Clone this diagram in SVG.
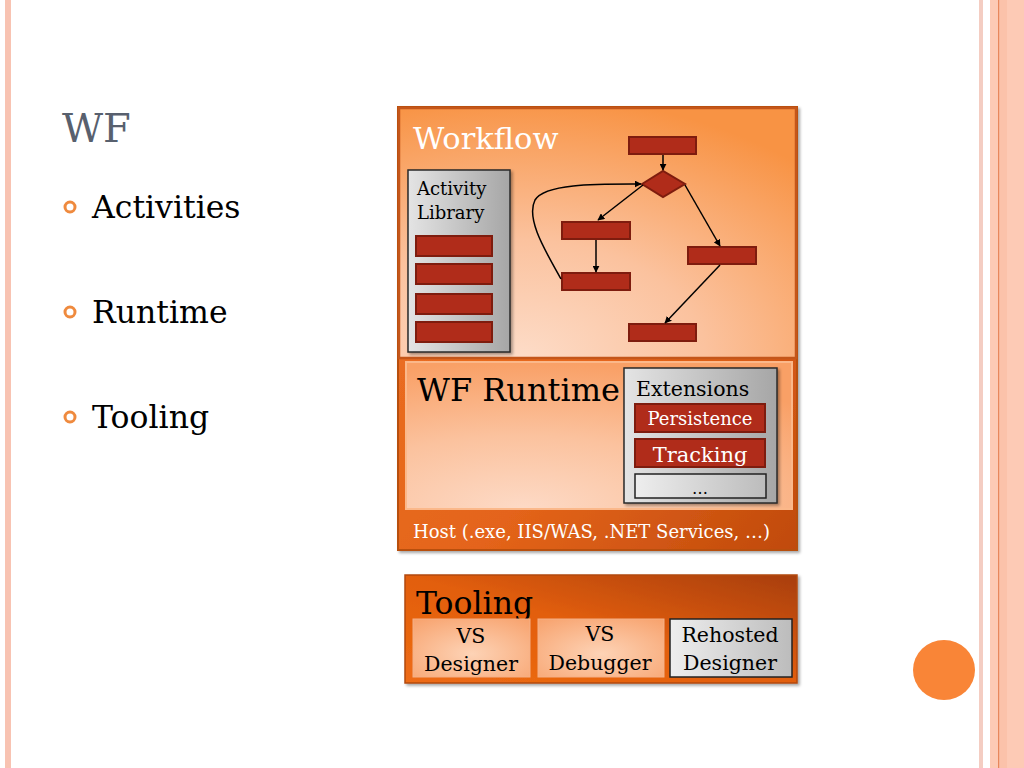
<svg xmlns="http://www.w3.org/2000/svg" width="1024" height="768" viewBox="0 0 1024 768">
<defs>
<style>
.serif{font-family:"DejaVu Serif","Liberation Serif",serif}
.red{fill:#b02c1a;stroke:#7e1c0e;stroke-width:2}
.conn{fill:none;stroke:#000;stroke-width:1.5}
.gbox{stroke:#2a2a2a;stroke-width:1.5}
</style>
<filter id="sh" x="-10%" y="-10%" width="130%" height="130%">
<feDropShadow dx="2" dy="2" stdDeviation="1.5" flood-color="#000" flood-opacity="0.35"/>
</filter>
<radialGradient id="wfG" cx="0.3" cy="1" r="1.05">
<stop offset="0" stop-color="#fddcc8"/>
<stop offset="0.45" stop-color="#fbc29e"/>
<stop offset="1" stop-color="#f89344"/>
</radialGradient>
<radialGradient id="rtG" cx="0.3" cy="1" r="1">
<stop offset="0" stop-color="#fddac6"/>
<stop offset="0.5" stop-color="#fbc29e"/>
<stop offset="1" stop-color="#f9a066"/>
</radialGradient>
<linearGradient id="hostG" x1="0" y1="0" x2="1" y2="1">
<stop offset="0" stop-color="#ee7426"/>
<stop offset="0.6" stop-color="#e4641a"/>
<stop offset="1" stop-color="#c04a0c"/>
</linearGradient>
<linearGradient id="toolG" x1="0" y1="1" x2="1" y2="0">
<stop offset="0" stop-color="#ee6c14"/>
<stop offset="0.5" stop-color="#e25e0c"/>
<stop offset="1" stop-color="#a83e08"/>
</linearGradient>
<radialGradient id="vsG" cx="0.5" cy="0.6" r="0.8">
<stop offset="0" stop-color="#fdd3b6"/>
<stop offset="1" stop-color="#f7a06a"/>
</radialGradient>
<linearGradient id="grayG" x1="0" y1="0" x2="1" y2="0">
<stop offset="0" stop-color="#e4e4e4"/>
<stop offset="1" stop-color="#a6a6a6"/>
</linearGradient>
<linearGradient id="grayL" x1="0" y1="0" x2="1" y2="0">
<stop offset="0" stop-color="#eeeeee"/>
<stop offset="1" stop-color="#bcbcbc"/>
</linearGradient>
<marker id="ah" viewBox="0 0 10 10" refX="9" refY="5" markerWidth="7" markerHeight="7" orient="auto-start-reverse" markerUnits="userSpaceOnUse">
<path d="M0,0 L10,5 L0,10 z" fill="#000"/>
</marker>
</defs>
<rect width="1024" height="768" fill="#ffffff"/>
<!-- slide decorations -->
<rect x="5" y="0" width="6" height="768" fill="#f8c3b2"/>
<rect x="979" y="0" width="4" height="768" fill="#f4cdc2"/>
<rect x="990" y="0" width="34" height="768" fill="#fdcab5"/>
<rect x="999" y="0" width="8" height="768" fill="#fbc2aa"/>
<rect x="998" y="0" width="1.2" height="768" fill="#e8875c"/>
<ellipse cx="944" cy="670" rx="31" ry="30" fill="#f98537"/>
<!-- left text -->
<g id="title"><text x="62" y="142" class="serif" font-size="40" fill="#58606e">WF</text></g>
<g id="bullets" class="serif" font-size="31.5" fill="#000">
<circle cx="70" cy="207" r="5" fill="none" stroke="#ef8a3e" stroke-width="3"/>
<text x="92" y="218">Activities</text>
<circle cx="70" cy="312" r="5" fill="none" stroke="#ef8a3e" stroke-width="3"/>
<text x="92" y="323">Runtime</text>
<circle cx="70" cy="417" r="5" fill="none" stroke="#ef8a3e" stroke-width="3"/>
<text x="92" y="428">Tooling</text>
</g>
<!-- Host -->
<g id="host">
<rect x="398" y="107" width="399" height="443" fill="url(#hostG)" stroke="#b8500f" stroke-width="2" filter="url(#sh)"/>
<text x="413" y="538" class="serif" font-size="18" fill="#ffffff">Host (.exe, IIS/WAS, .NET Services, …)</text>
</g>
<!-- Workflow -->
<g id="workflow">
<rect x="399" y="108" width="397" height="250" fill="url(#wfG)" stroke="#c4561a" stroke-width="2.5"/>
<text x="413" y="149" class="serif" font-size="30.5" fill="#ffffff">Workflow</text>
</g>
<!-- Activity Library -->
<g id="activity-library">
<rect x="408" y="170" width="102" height="182" fill="url(#grayG)" class="gbox" filter="url(#sh)"/>
<text x="417" y="195" class="serif" font-size="18" fill="#000">Activity</text>
<text x="417" y="219" class="serif" font-size="18" fill="#000">Library</text>
<rect x="416" y="236" width="76" height="20" class="red"/>
<rect x="416" y="264" width="76" height="20" class="red"/>
<rect x="416" y="294" width="76" height="20" class="red"/>
<rect x="416" y="322" width="76" height="20" class="red"/>
</g>
<!-- flowchart nodes -->
<g id="n-start"><rect x="629" y="137" width="67" height="17" class="red"/></g>
<g id="n-decision"><polygon points="642,184 663,171 685,184 663,197" class="red"/></g>
<g id="n-left1"><rect x="562" y="222" width="68" height="17" class="red"/></g>
<g id="n-left2"><rect x="562" y="273" width="68" height="17" class="red"/></g>
<g id="n-right"><rect x="688" y="247" width="68" height="17" class="red"/></g>
<g id="n-end"><rect x="629" y="324" width="67" height="17" class="red"/></g>
<g id="connectors">
<path d="M663,155 L663,170" class="conn" marker-end="url(#ah)"/>
<path d="M643,185 L598,220" class="conn" marker-end="url(#ah)"/>
<path d="M596,240 L596,272" class="conn" marker-end="url(#ah)"/>
<path d="M685,185 L720,246" class="conn" marker-end="url(#ah)"/>
<path d="M720,265 L665,323" class="conn" marker-end="url(#ah)"/>
<path d="M561,279 C548,255 525,220 535,200 C545,183 600,184 641,184" class="conn" marker-end="url(#ah)"/>
</g>
<!-- WF Runtime -->
<g id="runtime">
<rect x="406" y="362" width="386" height="147" fill="url(#rtG)" stroke="#fbb88a" stroke-width="2"/>
<text x="417" y="401" class="serif" font-size="32" fill="#000">WF Runtime</text>
</g>
<g id="extensions">
<rect x="624" y="368" width="153" height="135" fill="url(#grayG)" class="gbox" filter="url(#sh)"/>
<text x="636" y="396" class="serif" font-size="20.5" fill="#000">Extensions</text>
</g>
<g id="persistence">
<rect x="635" y="404" width="130" height="28" class="red"/>
<text x="700" y="425" class="serif" font-size="18" fill="#fff" text-anchor="middle">Persistence</text>
</g>
<g id="tracking">
<rect x="635" y="439" width="130" height="28" class="red"/>
<text x="700" y="462" class="serif" font-size="21" fill="#fff" text-anchor="middle">Tracking</text>
</g>
<g id="more">
<rect x="635" y="474" width="131" height="24" fill="url(#grayL)" stroke="#222" stroke-width="1.5"/>
<text x="700" y="494" class="serif" font-size="16" fill="#000" text-anchor="middle">…</text>
</g>
<!-- Tooling -->
<g id="tooling">
<rect x="405" y="575" width="392" height="108" fill="url(#toolG)" stroke="#b34a0e" stroke-width="1.5" filter="url(#sh)"/>
<text x="416" y="614" class="serif" font-size="31.5" fill="#000">Tooling</text>
</g>
<g id="vs-designer">
<rect x="413" y="619" width="117" height="58" fill="url(#vsG)" stroke="#f4b088" stroke-width="1"/>
<text x="471" y="643" class="serif" font-size="20.5" fill="#000" text-anchor="middle">VS</text>
<text x="471" y="671" class="serif" font-size="20.5" fill="#000" text-anchor="middle">Designer</text>
</g>
<g id="vs-debugger">
<rect x="538" y="619" width="126" height="58" fill="url(#vsG)" stroke="#f4b088" stroke-width="1"/>
<text x="600" y="641" class="serif" font-size="20.5" fill="#000" text-anchor="middle">VS</text>
<text x="600" y="670" class="serif" font-size="20.5" fill="#000" text-anchor="middle">Debugger</text>
</g>
<g id="rehosted-designer">
<rect x="670" y="619" width="122" height="58" fill="url(#grayL)" stroke="#222" stroke-width="1.5"/>
<text x="730" y="642" class="serif" font-size="20.5" fill="#000" text-anchor="middle">Rehosted</text>
<text x="730" y="670" class="serif" font-size="20.5" fill="#000" text-anchor="middle">Designer</text>
</g>
</svg>
